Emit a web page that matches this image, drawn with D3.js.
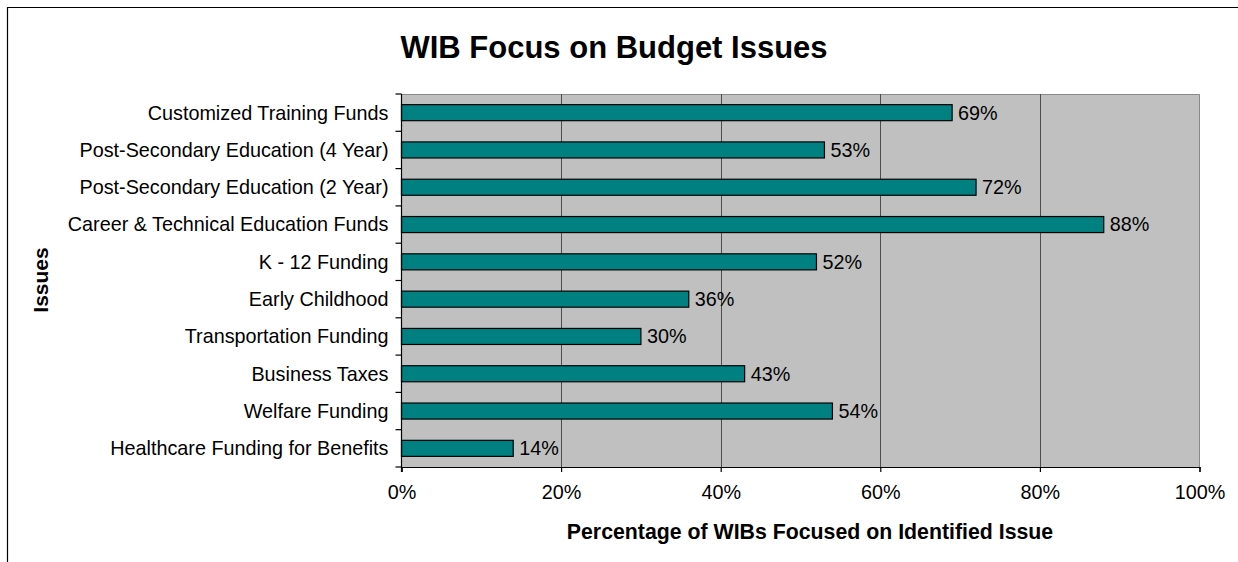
<!DOCTYPE html>
<html>
<head>
<meta charset="utf-8">
<script src="https://cdn.jsdelivr.net/npm/d3@7"></script>
<style>
  html, body { margin: 0; padding: 0; background: #fff; }
  svg { display: block; font-family: "Liberation Sans", Arial, sans-serif; }
</style>
</head>
<body>
<svg id="chart" width="1238" height="562"></svg>
<script>
// Budget issues, listed top to bottom
const issues = [
  "Customized Training Funds",
  "Post-Secondary Education (4 Year)",
  "Post-Secondary Education (2 Year)",
  "Career & Technical Education Funds",
  "K - 12 Funding",
  "Early Childhood",
  "Transportation Funding",
  "Business Taxes",
  "Welfare Funding",
  "Healthcare Funding for Benefits"
];
// Share of WIBs focused on each issue (%)
const shares = [69, 53, 72, 88, 52, 36, 30, 43, 54, 14];
const xTicks = [0, 20, 40, 60, 80, 100];

const svg = d3.select("#chart");
const W = 1238, H = 562;
const plot = { left: 401.5, right: 1199.5, top: 94, bottom: 467 };
const labelSize = 19.8;

// outer chart frame (left and top edges visible)
svg.append("path")
  .attr("d", `M7.5,${H} V7.5 H${W}`)
  .attr("fill", "none").attr("stroke", "#000").attr("stroke-width", 1.2);

const x = d3.scaleLinear().domain([0, 100]).range([plot.left, plot.right]);
const y = d3.scaleBand().domain(issues).range([plot.top, plot.bottom]);

// plot area background
svg.append("rect")
  .attr("x", plot.left).attr("y", plot.top)
  .attr("width", plot.right - plot.left).attr("height", plot.bottom - plot.top)
  .attr("fill", "#c0c0c0");
// plot area border (top and right)
svg.append("path")
  .attr("d", `M${plot.left},${plot.top + 0.5} H${plot.right} V${plot.bottom}`)
  .attr("fill", "none").attr("stroke", "#8a8a8a").attr("stroke-width", 1);

// vertical gridlines
svg.append("g").selectAll("line")
  .data(xTicks.filter(t => t > 0 && t < 100))
  .join("line")
  .attr("x1", d => Math.round(x(d)) + 0.5).attr("x2", d => Math.round(x(d)) + 0.5)
  .attr("y1", plot.top).attr("y2", plot.bottom)
  .attr("stroke", "#4d4d4d").attr("stroke-width", 1);

// bars
const barH = y.bandwidth() * 0.43;
svg.append("g").selectAll("rect")
  .data(issues)
  .join("rect")
  .attr("x", plot.left)
  .attr("y", (d) => y(d) + (y.bandwidth() - barH) / 2)
  .attr("width", (d, i) => x(shares[i]) - plot.left)
  .attr("height", barH)
  .attr("fill", "#008080")
  .attr("stroke", "#000").attr("stroke-width", 1.2);

// value labels
svg.append("g").selectAll("text")
  .data(issues)
  .join("text")
  .attr("x", (d, i) => x(shares[i]) + 6)
  .attr("y", d => y(d) + y.bandwidth() / 2)
  .attr("dy", "0.35em")
  .attr("font-size", labelSize)
  .attr("fill", "#000")
  .text((d, i) => shares[i] + "%");

// y axis: line, ticks at category boundaries, labels
const yAxis = svg.append("g");
yAxis.append("line")
  .attr("x1", plot.left).attr("x2", plot.left)
  .attr("y1", plot.top).attr("y2", plot.bottom + 5)
  .attr("stroke", "#000").attr("stroke-width", 1.2);
const bounds = issues.map(d => y(d)).concat([plot.bottom]);
yAxis.selectAll("line.tick")
  .data(bounds)
  .join("line").attr("class", "tick")
  .attr("x1", plot.left - 6).attr("x2", plot.left)
  .attr("y1", d => d).attr("y2", d => d)
  .attr("stroke", "#000").attr("stroke-width", 1.2);
yAxis.selectAll("text")
  .data(issues)
  .join("text")
  .attr("x", plot.left - 13)
  .attr("y", d => y(d) + y.bandwidth() / 2)
  .attr("dy", "0.35em")
  .attr("text-anchor", "end")
  .attr("font-size", labelSize)
  .text(d => d);

// x axis
const xAxis = svg.append("g").attr("transform", `translate(0,${plot.bottom})`)
  .call(d3.axisBottom(x).tickValues(xTicks).tickFormat(d => d + "%").tickSize(5).tickPadding(13));
xAxis.select(".domain").attr("stroke", "#000").attr("stroke-width", 1.2);
xAxis.selectAll(".tick line").attr("stroke", "#000").attr("stroke-width", 1.2);
xAxis.selectAll(".tick text")
  .attr("font-size", labelSize)
  .attr("font-family", "Liberation Sans, Arial, sans-serif")
  .attr("fill", "#000");

// titles
svg.append("text")
  .attr("x", 614).attr("y", 58)
  .attr("text-anchor", "middle")
  .attr("font-size", 31).attr("font-weight", "bold")
  .text("WIB Focus on Budget Issues");

svg.append("text")
  .attr("x", 810).attr("y", 539)
  .attr("text-anchor", "middle")
  .attr("font-size", 21.3).attr("font-weight", "bold")
  .text("Percentage of WIBs Focused on Identified Issue");

svg.append("text")
  .attr("transform", "translate(48,280) rotate(-90)")
  .attr("text-anchor", "middle")
  .attr("font-size", 21).attr("font-weight", "bold")
  .text("Issues");
</script>
</body>
</html>
